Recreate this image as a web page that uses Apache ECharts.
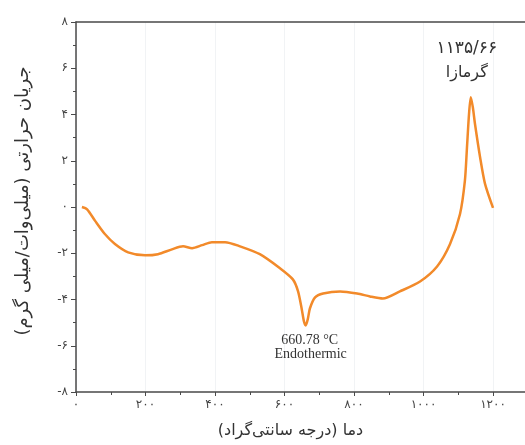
<!DOCTYPE html>
<html>
<head>
<meta charset="utf-8">
<script src="https://cdn.jsdelivr.net/npm/echarts@6/dist/echarts.min.js"></script>
<style>
  html, body { margin: 0; background: #fff; }
  #chart { width: 525px; height: 445px; }
</style>
</head>
<body>
<div id="chart"></div>
<script>
// دمای نمونه (درجه سانتی‌گراد) و جریان حرارتی (میلی‌وات/میلی‌گرم)
const temperature = [17, 32, 55, 83, 112, 150, 199, 236, 276, 308, 334, 363, 391, 429, 472, 529, 587,
  624, 639, 650, 656, 661, 667, 673, 688, 711, 760, 809, 846, 883, 932, 990, 1039, 1076, 1105,
  1119, 1125, 1131, 1136, 1142, 1148, 1163, 1177, 1200];
const heatFlow = [0, -0.1, -0.6, -1.17, -1.6, -1.96, -2.09, -2.04, -1.83, -1.7, -1.78, -1.65, -1.52, -1.52, -1.7, -2.04, -2.65,
  -3.13, -3.65, -4.45, -4.95, -5.12, -4.85, -4.39, -3.91, -3.74, -3.65, -3.74, -3.87, -3.96, -3.65, -3.22, -2.57, -1.61, -0.3,
  1.13, 2.57, 4.04, 4.75, 4.3, 3.6, 2.13, 1.0, -0.04];

// برچسب‌های قله‌ها
const exoPeak = { x: 1136, y: 4.75, lines: ['۱۱۳۵/۶۶', 'گرمازا'] };
const endoPeak = { x: 660.78, y: -5.12, lines: ['660.78 °C', 'Endothermic'] };

const xName = 'دما (درجه سانتی‌گراد)\u200F';
const yName = 'جریان حرارتی (میلی‌وات/میلی گرم)\u200F';

const faDigits = '۰۱۲۳۴۵۶۷۸۹';
const toFa = v => String(v).replace(/\d/g, d => faDigits[d]);

const chart = echarts.init(document.getElementById('chart'));

const axisColor = '#4a4a4a';
const labelFont = { fontFamily: 'DejaVu Sans', fontSize: 12, color: '#444' };

chart.setOption({
  backgroundColor: '#fff',
  animation: false,
  grid: { left: 76, right: 0, top: 22, bottom: 53 },
  xAxis: [
    {
      type: 'value',
      min: 0,
      max: 1292,
      interval: 200,
      name: xName,
      nameLocation: 'middle',
      nameGap: 31,
      nameTextStyle: { fontFamily: 'DejaVu Sans', fontSize: 16, color: '#333', padding: [0, 20, 0, 0] },
      axisLine: { onZero: false, lineStyle: { color: axisColor, width: 1.5 } },
      axisTick: { inside: false, length: 4, lineStyle: { color: axisColor } },
      minorTick: { show: true, splitNumber: 2, length: 3, lineStyle: { color: axisColor } },
      axisLabel: Object.assign({ margin: 7, showMaxLabel: false, formatter: v => (v % 200 === 0 ? toFa(v) : '') }, labelFont),
      splitLine: { show: true, lineStyle: { color: '#f1f3f5' } }
    },
    {
      type: 'value',
      position: 'top',
      min: 0,
      max: 1292,
      axisLine: { show: true, onZero: false, lineStyle: { color: axisColor, width: 1.5 } },
      axisTick: { show: false },
      axisLabel: { show: false },
      splitLine: { show: false }
    }
  ],
  yAxis: {
    type: 'value',
    min: -8,
    max: 8,
    interval: 2,
    name: yName,
    nameLocation: 'middle',
    nameGap: 44,
    nameRotate: 90,
    nameTextStyle: { fontFamily: 'DejaVu Sans', fontSize: 18, color: '#333', padding: [0, 0, 0, 12] },
    axisLine: { show: true, onZero: false, lineStyle: { color: axisColor, width: 1.5 } },
    axisTick: { show: true, length: 5, lineStyle: { color: axisColor } },
    minorTick: { show: true, splitNumber: 2, length: 3, lineStyle: { color: axisColor } },
    axisLabel: Object.assign({ margin: 8, formatter: v => toFa(v) }, labelFont),
    splitLine: { show: false }
  },
  series: [{
    type: 'line',
    data: temperature.map((t, i) => [t, heatFlow[i]]),
    showSymbol: false,
    smooth: 0.25,
    lineStyle: { color: '#f28a2a', width: 2.5 }
  }]
});

// متن‌های توضیحی روی نمودار
const exoPos = chart.convertToPixel({ gridIndex: 0 }, [exoPeak.x, exoPeak.y]);
const endoPos = chart.convertToPixel({ gridIndex: 0 }, [endoPeak.x, endoPeak.y]);

chart.setOption({
  graphic: [
    { type: 'text', x: exoPos[0] - 4, y: exoPos[1] - 49,
      style: { text: exoPeak.lines[0], font: '17px "DejaVu Sans"', fill: '#333', align: 'center', verticalAlign: 'middle' } },
    { type: 'text', x: exoPos[0] - 4, y: exoPos[1] - 24,
      style: { text: exoPeak.lines[1], font: '16px "DejaVu Sans"', fill: '#333', align: 'center', verticalAlign: 'middle' } },
    { type: 'text', x: endoPos[0] + 4, y: endoPos[1] + 15,
      style: { text: endoPeak.lines[0], font: '14px "Liberation Serif"', fill: '#333', align: 'center', verticalAlign: 'middle' } },
    { type: 'text', x: endoPos[0] + 5, y: endoPos[1] + 29,
      style: { text: endoPeak.lines[1], font: '14px "Liberation Serif"', fill: '#333', align: 'center', verticalAlign: 'middle' } }
  ]
});
</script>
</body>
</html>
